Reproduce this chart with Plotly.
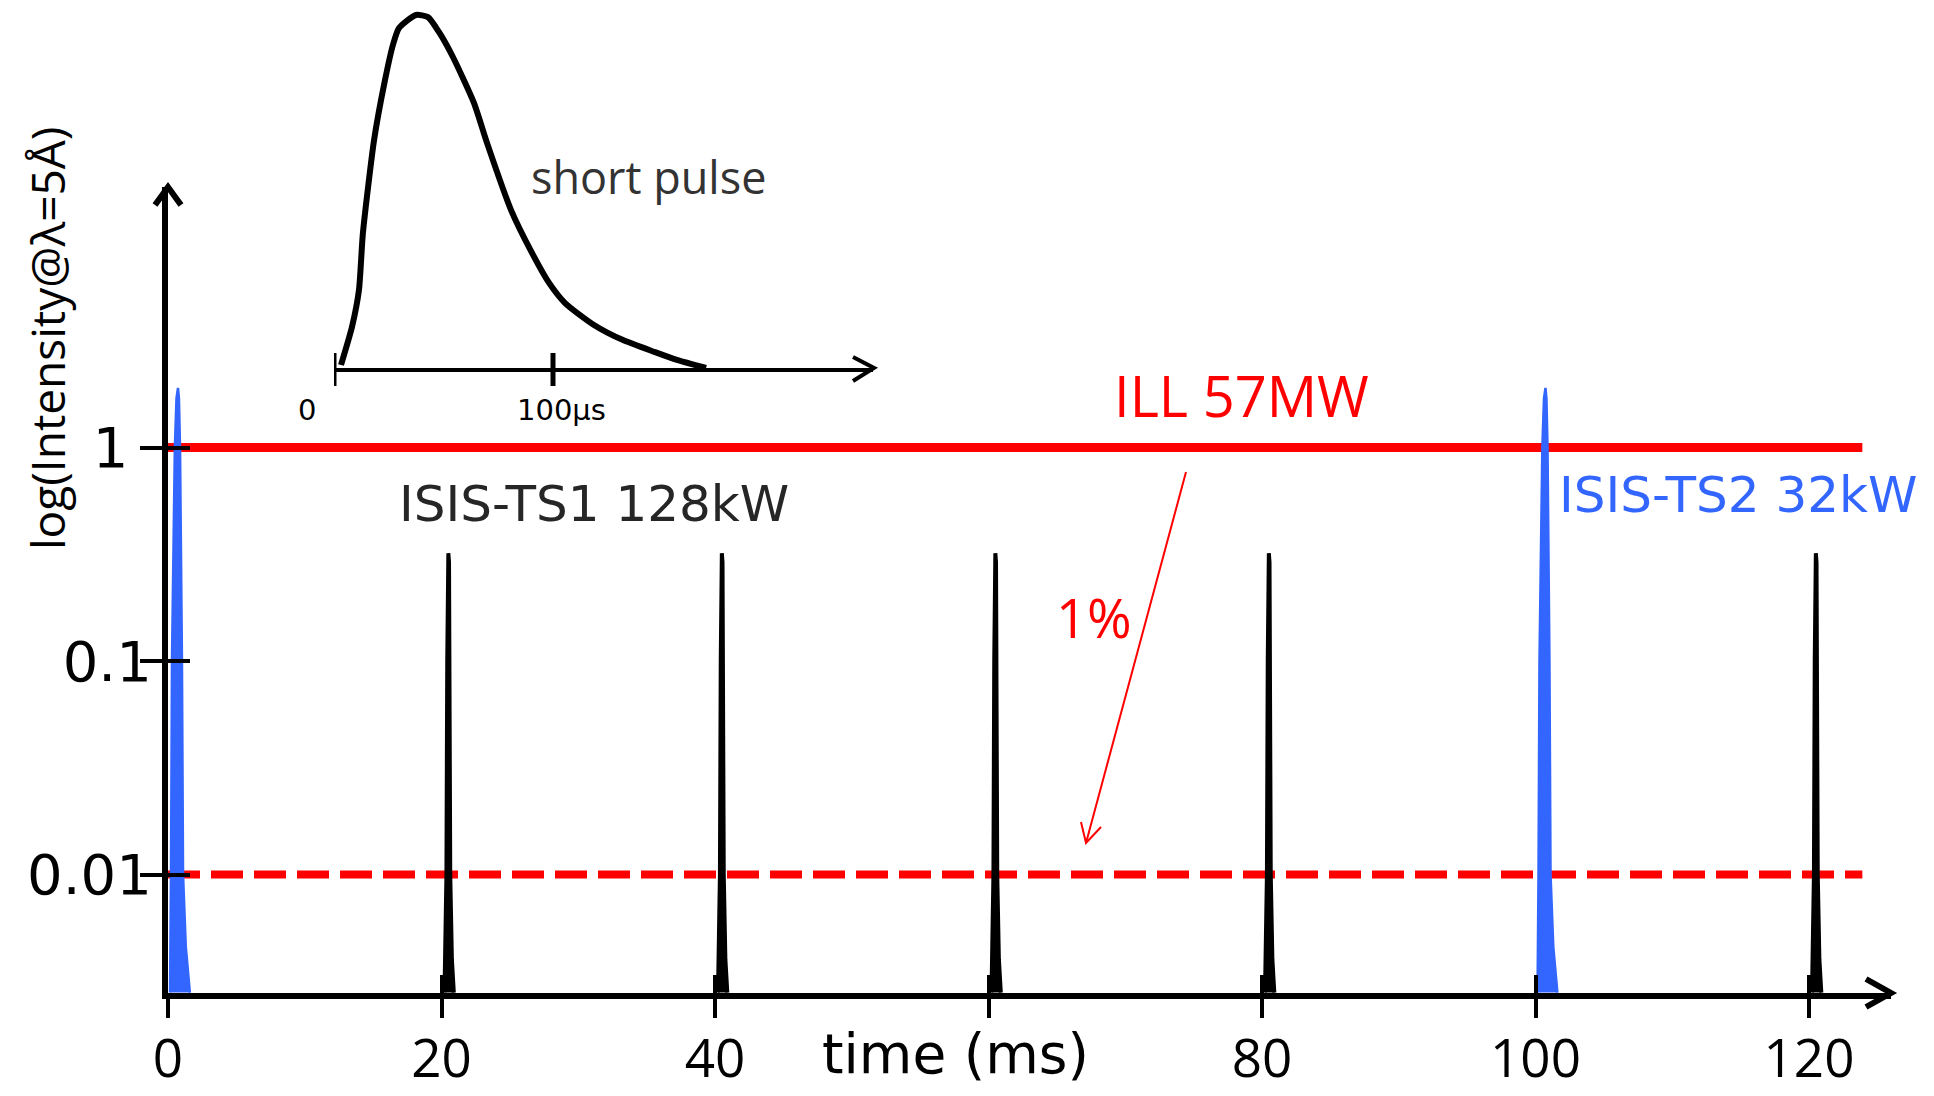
import plotly.graph_objects as go

# ---------------- data ----------------
TS1_TIMES_MS = [20, 40, 60, 80, 120]          # ISIS-TS1 pulses (black)
TS2_TIMES_MS = [0, 100]                       # ISIS-TS2 pulses (blue)
TS1_PULSE_DT = [0.22, 0.36, 0.42, 0.45, 0.50, 0.55, 0.58, 0.64, 0.76, 0.90]
TS1_PULSE_I = [0.0028, 0.01, 0.1, 0.29, 0.32, 0.29, 0.1, 0.01, 0.004, 0.0028]
TS2_PULSE_DT = [0.15, 0.22, 0.29, 0.50, 0.62, 0.73, 0.80, 0.88, 1.02, 1.10, 1.30, 1.60]
TS2_PULSE_I = [0.0028, 0.01, 0.1, 1.0, 1.7, 1.9, 1.7, 1.0, 0.1, 0.01, 0.0046, 0.0028]
ILL_LEVEL = [1.0, 1.0]
ILL_1PCT_LEVEL = [0.01, 0.01]
ILL_SPAN_MS = [0, 123.9]

SHORT_PULSE_T_US = [3.2, 8.2, 11.4, 13.2, 18.3, 23.3, 26.9, 29.7, 37.4, 42.9, 47.9, 54.3,
                    63.9, 69.9, 80.8, 90.4, 98.2, 105.5, 118.7, 132.0, 146.6, 156.6, 169.9]
SHORT_PULSE_I = [0.0085, 0.116, 0.221, 0.382, 0.646, 0.816, 0.915, 0.963, 1.0, 0.994, 0.952, 0.881,
                 0.751, 0.637, 0.448, 0.326, 0.241, 0.184, 0.122, 0.079, 0.045, 0.023, 0.0]

X_TICK_VALUES = [0, 20, 40, 60, 80, 100, 120]
X_TICK_LABELS = ["0", "20", "40", "", "80", "100", "120"]
Y_TICK_VALUES = [1, 0.1, 0.01]
Y_TICK_LABELS = ["1&nbsp;\u200a", "0.1", "0.01"]
INSET_TICK_VALUES = [0, 100]
INSET_TICK_LABELS = ["0", "100µs"]

# ---------------- layout geometry ----------------
W, H = 1934, 1096
L, R, T, B = 168, 43, 0, 103
PW, PH = W - L - R, H - T - B


def P(px, py):
    return (px - L) / PW, (H - B - py) / PH


RED = "#ff0000"
BLUE = "#3366ff"
BLACK = "#000000"
DARK = "#262626"
SANS = "Open Sans"
VERD = "DejaVu Sans"

fig = go.Figure()

# ILL lines
fig.add_trace(go.Scatter(x=ILL_SPAN_MS, y=ILL_LEVEL, mode="lines",
                         line=dict(color=RED, width=9), hoverinfo="skip", showlegend=False))
fig.add_trace(go.Scatter(x=ILL_SPAN_MS, y=ILL_1PCT_LEVEL, mode="lines",
                         line=dict(color=RED, width=8, dash="32px,11px"), hoverinfo="skip",
                         showlegend=False))

# TS1 pulses
for t0 in TS1_TIMES_MS:
    fig.add_trace(go.Scatter(x=[t0 + d for d in TS1_PULSE_DT], y=TS1_PULSE_I, mode="lines",
                             fill="toself", fillcolor=BLACK, line=dict(color=BLACK, width=4),
                             hoverinfo="skip", showlegend=False, cliponaxis=False))
# TS2 pulses
for t0 in TS2_TIMES_MS:
    fig.add_trace(go.Scatter(x=[t0 + d for d in TS2_PULSE_DT], y=TS2_PULSE_I, mode="lines",
                             fill="toself", fillcolor=BLUE, line=dict(color=BLUE, width=2.5),
                             hoverinfo="skip", showlegend=False, cliponaxis=False))

# overlay axes carrying the inner half of the crossing ticks
fig.add_trace(go.Scatter(x=[None], y=[None], xaxis="x2", yaxis="y2", showlegend=False,
                         hoverinfo="skip"))

# inset short pulse
fig.add_trace(go.Scatter(x=SHORT_PULSE_T_US, y=SHORT_PULSE_I, mode="lines", xaxis="x3", yaxis="y3",
                         line=dict(color=BLACK, width=6, shape="spline", smoothing=0.6),
                         hoverinfo="skip", showlegend=False, cliponaxis=False))

y_top = (447.5 - 187) / 213.5
y_bot = -(993 - 447.5) / 213.5
y_dom_top = (993 - 187) / PH
x_max = (1891 - 168) / 13.675

common_y = dict(type="log", range=[y_bot, y_top], domain=[0, y_dom_top], showgrid=False,
                zeroline=False, tickvals=Y_TICK_VALUES, tickwidth=4, tickcolor=BLACK,
                automargin=False)
fig.update_layout(
    width=W, height=H, margin=dict(l=L, r=R, t=T, b=B, autoexpand=False),
    paper_bgcolor="white", plot_bgcolor="white",
    xaxis=dict(range=[0, x_max], showgrid=False, zeroline=False, showline=True, linewidth=6,
               linecolor=BLACK, tickvals=X_TICK_VALUES, ticktext=X_TICK_LABELS, ticks="outside",
               ticklen=19, tickwidth=4, tickcolor=BLACK, ticklabelstandoff=-5, automargin=False,
               tickfont=dict(family=SANS, size=53, color=BLACK)),
    xaxis2=dict(overlaying="x", anchor="y", range=[0, x_max], showgrid=False, zeroline=False,
                showline=False, tickvals=X_TICK_VALUES, ticks="inside", ticklen=18, tickwidth=4,
                tickcolor=BLACK, showticklabels=False, automargin=False),
    yaxis=dict(**common_y, showline=True, linewidth=6, linecolor=BLACK, ticks="outside",
               ticklen=22, ticktext=Y_TICK_LABELS, ticklabelstandoff=-23,
               tickfont=dict(family=VERD, size=56, color=BLACK)),
    yaxis2=dict(**common_y, overlaying="y", anchor="x", side="left", showline=False,
                ticks="inside", ticklen=22, showticklabels=False),
    xaxis3=dict(domain=[(334 - L) / PW, (873 - L) / PW], anchor="y3", range=[0, (873 - 334) / 2.19],
                showgrid=False, zeroline=False, showline=True, linewidth=4, linecolor=BLACK,
                showticklabels=False, ticks="", automargin=False),
    yaxis3=dict(domain=[(993 - 368) / PH, 1.0], anchor="x3", range=[0, 368 / 353],
                visible=False, automargin=False),
)

shapes = []


def pline(pts, color=BLACK, width=5):
    path = "M " + " L ".join(f"{P(x, y)[0]:.5f},{P(x, y)[1]:.5f}" for x, y in pts)
    shapes.append(dict(type="path", path=path, xref="paper", yref="paper",
                       line=dict(color=color, width=width), layer="above"))


# axis arrowheads
pline([(1866, 979), (1891, 993), (1866, 1007)], width=6)
pline([(155, 205), (168, 187), (181, 205)], width=6)
pline([(853, 357), (874, 368), (853, 381)], width=4)
# inset tick marks
for v in INSET_TICK_VALUES:
    shapes.append(dict(type="line", xref="x3", yref="paper", x0=v, x1=v,
                       y0=P(0, 353)[1], y1=P(0, 386)[1], line=dict(color=BLACK, width=5)))
# 1% arrow
pline([(1186, 472), (1086, 843)], color=RED, width=2)
pline([(1081, 822), (1086, 843), (1101, 827)], color=RED, width=2)
fig.update_layout(shapes=shapes)

ann = []


def text(s, px, py, size, color, family, **kw):
    x, y = P(px, py)
    ann.append(dict(text=s, x=x, y=y, xref="paper", yref="paper", showarrow=False,
                    xanchor="center", yanchor="middle",
                    font=dict(size=size, color=color, family=family), **kw))


text("ILL 57MW", 1241, 395, 56, RED, SANS)
text("1%", 1094, 617, 54, RED, SANS)
text("ISIS-TS1 128kW", 594, 504, 50, DARK, VERD)
text("ISIS-TS2 32kW", 1738, 495, 50, BLUE, VERD)
text("short pulse", 648, 177, 45, "#333333", SANS)
text("log(Intensity@λ=5Å)", 47, 339, 46, BLACK, SANS, textangle=-90)
ann.append(dict(text="time (ms)", x=57.55, y=P(0, 1054)[1], xref="x", yref="paper",
                showarrow=False, xanchor="center", yanchor="middle",
                font=dict(size=55, color=BLACK, family=VERD)))
for v, s, dx in zip(INSET_TICK_VALUES, INSET_TICK_LABELS, [-27, 8]):
    ann.append(dict(text=s, x=v, y=P(0, 410)[1], xref="x3", yref="paper", xshift=dx,
                    showarrow=False, xanchor="center", yanchor="middle",
                    font=dict(size=29, color=BLACK, family=VERD)))
fig.update_layout(annotations=ann)

fig.write_html("out.html", config={"displayModeBar": False},
               post_script="document.body.style.margin='0';document.body.style.overflow='hidden';")
